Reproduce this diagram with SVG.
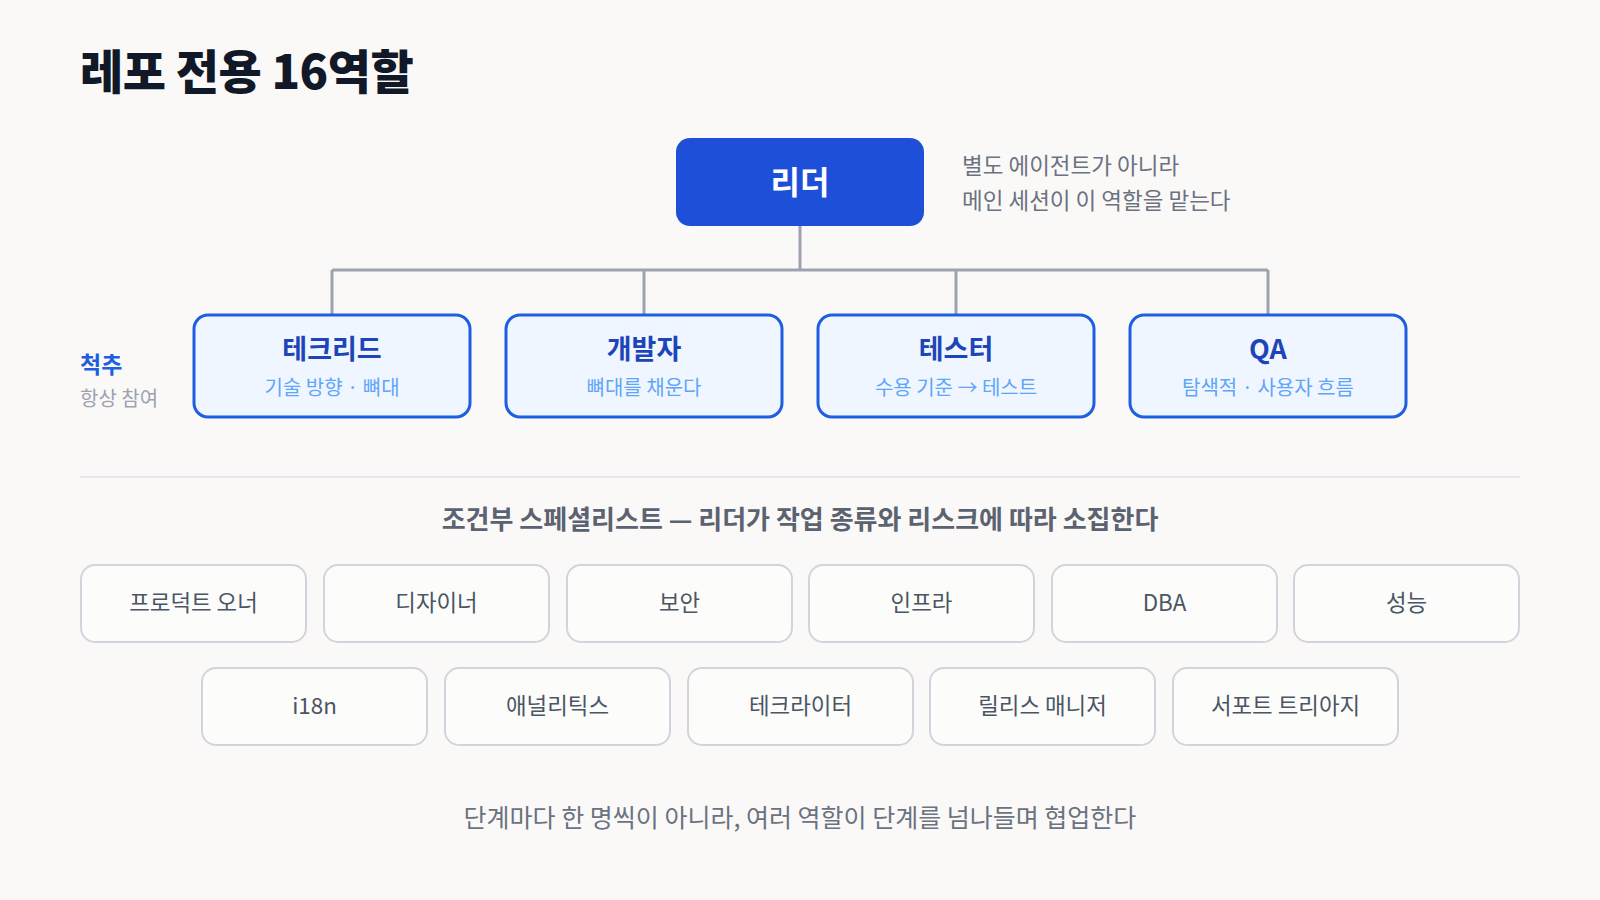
<svg xmlns="http://www.w3.org/2000/svg" width="1600" height="900" viewBox="0 0 1600 900">
  <style>
    text { font-family: "Noto Sans CJK KR", "Noto Sans", sans-serif; }
    .title { font-size: 47px; font-weight: 800; fill: #111827; letter-spacing: -0.5px; }
    .note { font-size: 22.5px; fill: #6b7280; }
    .leader-box { fill: #1d4fd8; }
    .leader-txt { font-size: 32px; font-weight: 700; fill: #ffffff; text-anchor: middle; }
    .core-box { fill: #eff6ff; stroke: #1d5fe0; stroke-width: 3; }
    .core-title { font-size: 27px; font-weight: 700; fill: #1e45b8; text-anchor: middle; }
    .core-sub { font-size: 20px; fill: #60a5fa; text-anchor: middle; }
    .side-bold { font-size: 23px; font-weight: 700; fill: #1d5fe0; }
    .side { font-size: 20px; fill: #9ca3af; }
    .conn { fill: none; stroke: #9ca3af; stroke-width: 3; }
    .divider { stroke: #e5e7eb; stroke-width: 2; }
    .spec-head { font-size: 26px; font-weight: 700; fill: #5b6270; text-anchor: middle; }
    .spec-box { fill: #fcfcfb; stroke: #d1d5db; stroke-width: 2; }
    .spec-txt { font-size: 22.4px; fill: #4b5563; text-anchor: middle; }
    .footer { font-size: 25px; fill: #6b7280; text-anchor: middle; }
  </style>
  <rect width="1600" height="900" fill="#faf9f8"/>

  <text class="title" x="80" y="89">레포 전용 16역할</text>

  <g id="connectors">
    <path class="conn" d="M800 226 V270 M332 270 H1268 M332 270 V314 M644 270 V314 M956 270 V314 M1268 270 V314"/>
  </g>

  <g id="leader">
    <rect class="leader-box" x="676" y="138" width="248" height="88" rx="14"/>
    <text class="leader-txt" x="800" y="194">리더</text>
  </g>
  <g id="leader-note">
    <text class="note" x="962" y="174">별도 에이전트가 아니라</text>
    <text class="note" x="962" y="209">메인 세션이 이 역할을 맡는다</text>
  </g>

  <g id="spine-label">
    <text class="side-bold" x="80" y="373">척추</text>
    <text class="side" x="80" y="406">항상 참여</text>
  </g>

  <g id="techlead">
    <rect class="core-box" x="194" y="315" width="276" height="102" rx="14"/>
    <text class="core-title" x="332" y="359">테크리드</text>
    <text class="core-sub" x="332" y="395">기술 방향 · 뼈대</text>
  </g>
  <g id="developer">
    <rect class="core-box" x="506" y="315" width="276" height="102" rx="14"/>
    <text class="core-title" x="644" y="359">개발자</text>
    <text class="core-sub" x="644" y="395">뼈대를 채운다</text>
  </g>
  <g id="tester">
    <rect class="core-box" x="818" y="315" width="276" height="102" rx="14"/>
    <text class="core-title" x="956" y="359">테스터</text>
    <text class="core-sub" x="956" y="395">수용 기준 → 테스트</text>
  </g>
  <g id="qa">
    <rect class="core-box" x="1130" y="315" width="276" height="102" rx="14"/>
    <text class="core-title" x="1268" y="359">QA</text>
    <text class="core-sub" x="1268" y="395">탐색적 · 사용자 흐름</text>
  </g>

  <line class="divider" x1="80" y1="477" x2="1520" y2="477"/>

  <text class="spec-head" x="800" y="529">조건부 스페셜리스트 — 리더가 작업 종류와 리스크에 따라 소집한다</text>

  <g id="product-owner"><rect class="spec-box" x="81" y="565" width="225" height="77" rx="14"/><text class="spec-txt" x="193.5" y="611">프로덕트 오너</text></g>
  <g id="designer"><rect class="spec-box" x="324" y="565" width="225" height="77" rx="14"/><text class="spec-txt" x="436.5" y="611">디자이너</text></g>
  <g id="security"><rect class="spec-box" x="567" y="565" width="225" height="77" rx="14"/><text class="spec-txt" x="679.5" y="611">보안</text></g>
  <g id="infra"><rect class="spec-box" x="809" y="565" width="225" height="77" rx="14"/><text class="spec-txt" x="921.5" y="611">인프라</text></g>
  <g id="dba"><rect class="spec-box" x="1052" y="565" width="225" height="77" rx="14"/><text class="spec-txt" x="1164.5" y="611">DBA</text></g>
  <g id="performance"><rect class="spec-box" x="1294" y="565" width="225" height="77" rx="14"/><text class="spec-txt" x="1406.5" y="611">성능</text></g>

  <g id="i18n"><rect class="spec-box" x="202" y="668" width="225" height="77" rx="14"/><text class="spec-txt" x="314.5" y="714">i18n</text></g>
  <g id="analytics"><rect class="spec-box" x="445" y="668" width="225" height="77" rx="14"/><text class="spec-txt" x="557.5" y="714">애널리틱스</text></g>
  <g id="tech-writer"><rect class="spec-box" x="688" y="668" width="225" height="77" rx="14"/><text class="spec-txt" x="800.5" y="714">테크라이터</text></g>
  <g id="release-manager"><rect class="spec-box" x="930" y="668" width="225" height="77" rx="14"/><text class="spec-txt" x="1042.5" y="714">릴리스 매니저</text></g>
  <g id="support-triage"><rect class="spec-box" x="1173" y="668" width="225" height="77" rx="14"/><text class="spec-txt" x="1285.5" y="714">서포트 트리아지</text></g>

  <text class="footer" x="800" y="827">단계마다 한 명씩이 아니라, 여러 역할이 단계를 넘나들며 협업한다</text>
</svg>
